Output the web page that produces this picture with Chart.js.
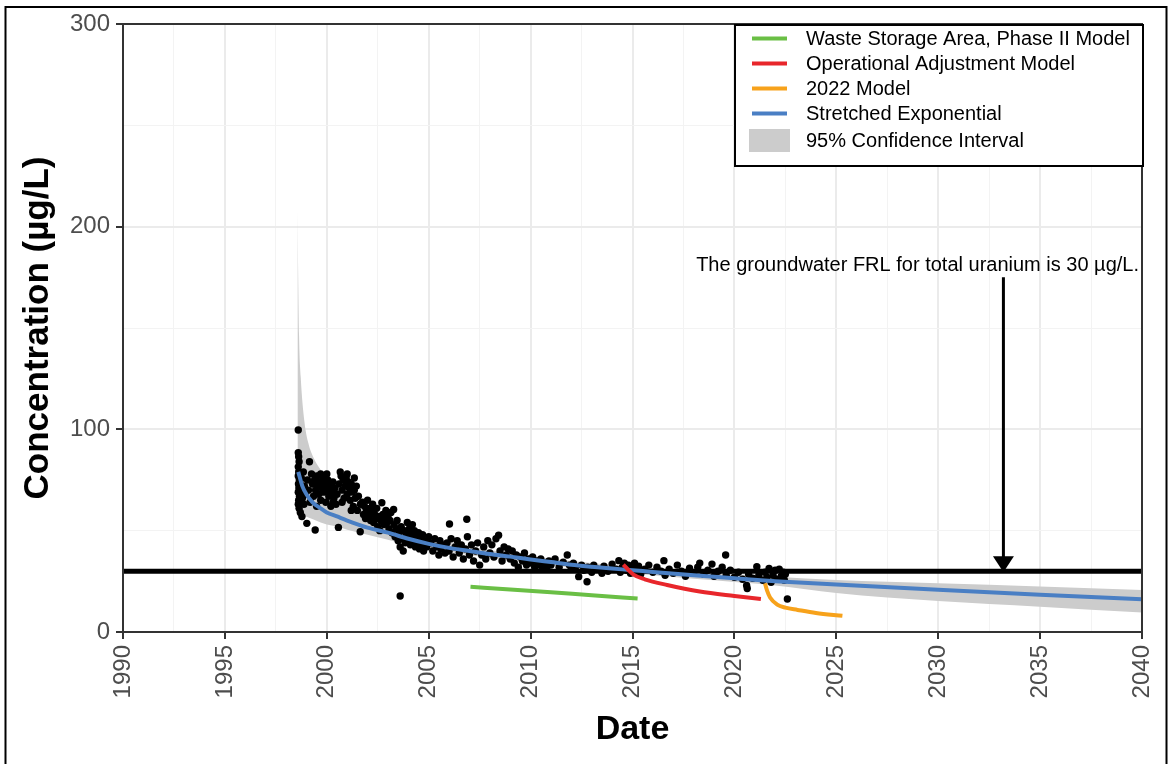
<!DOCTYPE html>
<html>
<head>
<meta charset="utf-8">
<title>Total uranium concentration trend</title>
<script src="https://cdn.jsdelivr.net/npm/chart.js@4.4.1/dist/chart.umd.min.js"></script>
<style>
  html, body { margin: 0; padding: 0; background: #fff; }
  canvas { display: block; }
</style>
</head>
<body>
<canvas id="trendChart" width="1169" height="764"></canvas>
<script>
// Measured samples: [decimal year, concentration (µg/L)]
const samples = [
  [1998.60, 99.7], [1998.60, 88.5], [1998.62, 86.5], [1998.64, 84], [1998.60, 81.5], [1998.62, 79],
  [1998.60, 77], [1998.65, 75], [1998.61, 73], [1998.63, 71], [1998.60, 69], [1998.66, 67],
  [1998.62, 65], [1998.60, 63], [1998.64, 61], [1998.70, 59], [1998.78, 57], [1998.68, 74],
  [1998.72, 70], [1998.75, 76], [1998.80, 66], [1998.85, 79], [1998.88, 63],
  [1998.90, 72], [1998.95, 68], [1999.02, 53.6], [1999.05, 75], [1999.10, 70], [1999.15, 84],
  [1999.18, 64], [1999.25, 78], [1999.30, 73], [1999.35, 67], [1999.40, 75], [1999.43, 50.3],
  [1999.45, 70], [1999.50, 62], [1999.50, 77],
  [1999.55, 72], [1999.60, 68], [1999.65, 74], [1999.70, 65], [1999.75, 71], [1999.80, 76],
  [1999.85, 69], [1999.90, 73], [1999.95, 64], [2000.00, 70], [2000.05, 75], [2000.10, 67],
  [2000.15, 72], [2000.20, 62], [2000.25, 69], [2000.30, 74], [2000.35, 66], [2000.40, 71],
  [2000.45, 63], [2000.50, 68], [1999.70, 78], [2000.00, 78], [2000.30, 64],
  [2000.57, 51.6], [2000.60, 73], [2000.66, 79], [2000.70, 77], [2000.75, 70], [2000.80, 75],
  [2000.85, 66], [2000.90, 72], [2000.95, 76], [2001.00, 68], [2001.05, 74], [2001.10, 71],
  [2001.15, 65], [2001.20, 73], [2001.25, 69], [2001.30, 62], [2001.35, 70], [2001.40, 66],
  [2001.45, 72], [2001.50, 60], [2001.55, 67], [2001.64, 49.5], [2001.65, 63],
  [2000.75, 64], [2001.00, 78], [2001.20, 60], [2001.35, 76],
  [2001.75, 64], [2001.80, 58], [2001.85, 62], [2001.90, 56], [2001.95, 60], [2002.00, 65],
  [2002.05, 57], [2002.10, 61], [2002.15, 55], [2002.20, 59], [2002.25, 63], [2002.30, 54],
  [2002.35, 58], [2002.40, 56], [2002.45, 61], [2002.50, 52], [2002.55, 57], [2002.60, 50],
  [2002.65, 55], [2002.70, 63.8], [2002.75, 58], [2002.80, 53], [2002.85, 56], [2002.90, 60],
  [2002.95, 54], [2002.00, 59], [2002.30, 61], [2002.60, 56],
  [2003.00, 57], [2003.05, 51], [2003.10, 55], [2003.15, 59], [2003.20, 49], [2003.28, 60.5],
  [2003.30, 53], [2003.35, 47], [2003.40, 51], [2003.45, 55], [2003.50, 45], [2003.55, 49],
  [2003.60, 17.8], [2003.60, 42], [2003.65, 52], [2003.70, 46], [2003.75, 40], [2003.80, 50],
  [2003.85, 44], [2003.90, 48], [2003.95, 54],
  [2004.00, 46], [2004.05, 51], [2004.10, 43], [2004.15, 48], [2004.20, 53], [2004.25, 45],
  [2004.30, 50], [2004.35, 42], [2004.40, 47], [2004.45, 44], [2004.50, 49], [2004.55, 41],
  [2004.60, 46], [2004.65, 43], [2004.70, 48], [2004.75, 40], [2004.80, 45], [2004.90, 42],
  [2005.00, 47],
  [2005.10, 44], [2005.20, 40], [2005.30, 46], [2005.40, 42], [2005.50, 38], [2005.55, 45],
  [2005.60, 41], [2005.70, 43], [2005.80, 39], [2005.90, 44], [2006.02, 53.3], [2006.00, 40],
  [2006.10, 46], [2006.20, 37], [2006.30, 42],
  [2006.40, 45], [2006.50, 39], [2006.60, 43], [2006.70, 36], [2006.87, 55.6], [2006.80, 41],
  [2006.90, 47], [2007.00, 38], [2007.10, 43], [2007.20, 35], [2007.30, 40], [2007.40, 44],
  [2007.50, 33], [2007.60, 38],
  [2007.70, 42], [2007.80, 36], [2007.90, 45], [2008.00, 39], [2008.10, 43], [2008.20, 37],
  [2008.30, 46], [2008.43, 47.8], [2008.50, 40], [2008.60, 35], [2008.70, 42], [2008.80, 38],
  [2008.90, 41], [2009.00, 36],
  [2009.10, 40], [2009.20, 34], [2009.30, 38], [2009.40, 32], [2009.50, 37], [2009.60, 35],
  [2009.70, 39], [2009.80, 33], [2009.90, 36], [2010.00, 34], [2010.10, 37], [2010.20, 32],
  [2010.30, 35], [2010.40, 33],
  [2010.50, 36], [2010.60, 31.5], [2010.70, 34], [2010.80, 32], [2010.90, 35], [2011.00, 33],
  [2011.20, 36], [2011.40, 32], [2011.60, 34.5], [2011.80, 38], [2011.90, 33], [2012.00, 31],
  [2012.10, 34], [2012.20, 32], [2012.36, 27.3], [2012.50, 33],
  [2012.60, 30.5], [2012.77, 24.8], [2012.80, 32], [2013.00, 29.5], [2013.10, 33], [2013.30, 31],
  [2013.50, 29], [2013.60, 32.5], [2013.80, 30], [2014.00, 33.5], [2014.20, 31], [2014.33, 35.2],
  [2014.40, 29.5], [2014.50, 32], [2014.60, 34],
  [2014.70, 30.5], [2014.80, 33], [2014.90, 29], [2015.00, 31.5], [2015.10, 34], [2015.20, 30],
  [2015.30, 32.5], [2015.40, 28.5], [2015.60, 31], [2015.80, 33], [2016.00, 29.5], [2016.20, 32],
  [2016.40, 30], [2016.54, 35.2], [2016.60, 28],
  [2016.80, 31], [2017.00, 29], [2017.20, 33], [2017.40, 30], [2017.60, 27.5], [2017.80, 31.5],
  [2018.00, 29], [2018.20, 32], [2018.30, 34], [2018.50, 28.5], [2018.70, 30.5], [2018.90, 33.5],
  [2019.00, 27.5], [2019.20, 30],
  [2019.40, 32], [2019.57, 38], [2019.60, 28], [2019.80, 30.5], [2020.00, 27], [2020.20, 29.5],
  [2020.40, 26], [2020.63, 21.5], [2020.60, 23], [2020.70, 28.5], [2020.90, 26.5], [2021.10, 32.2],
  [2021.20, 28],
  [2021.40, 25.5], [2021.50, 29.5], [2021.60, 27], [2021.70, 31.3], [2021.80, 24.5], [2021.90, 28],
  [2022.00, 30.5], [2022.10, 26], [2022.20, 31], [2022.30, 27.5], [2022.40, 29.5], [2022.45, 25.5],
  [2022.50, 28.5], [2022.60, 16.3]
];

// Stretched exponential fit
const fitYears = [1998.6, 1998.8, 1999.0, 1999.3, 1999.7, 2000.0, 2000.5, 2001, 2002, 2003, 2004,
  2005, 2006, 2007, 2008, 2009, 2010, 2011, 2012, 2013, 2014, 2015, 2016, 2018, 2020, 2022, 2025,
  2030, 2035, 2040];
const fitValues = [79, 72, 68, 64, 61, 59, 57, 55, 51.5, 49, 46, 43.5, 41.5, 40, 38.5, 37.2, 35.8,
  34.5, 33.2, 32.2, 31.3, 30.5, 29.6, 28.0, 26.5, 25.1, 23.4, 20.8, 18.4, 16.2];

// 95% confidence interval of the fit
const ciYears = [1998.56, 1998.64, 1998.72, 1998.9, 1999.1, 1999.35, 1999.7, 2000.0, 2000.5, 2001,
  2002, 2003, 2004, 2005, 2006, 2007, 2008, 2010, 2012, 2014, 2016, 2018, 2020, 2022, 2025, 2030,
  2035, 2040];
const ciUpper = [208, 146, 126, 104, 93, 86, 80, 76, 71, 66.5, 60, 55, 51, 47.5, 44.5, 42.3, 40.5,
  37.5, 35, 33, 31.2, 29.8, 28.5, 27.3, 25.6, 24, 22.4, 20.7];
const ciLower = [57, 57, 57, 57, 56.5, 55.5, 54, 53, 52, 50.5, 48, 45.5, 43, 41.3, 39.5, 38, 36.5,
  34.2, 31.8, 29.8, 28, 26.3, 24.7, 23, 19.3, 15.3, 12.5, 9.6];

// Earlier model projections
const wsaYears = [2007.05, 2009, 2011, 2013, 2015.25];
const wsaValues = [22.3, 21.0, 19.6, 18.1, 16.5];
const oaYears = [2014.55, 2014.8, 2015.05, 2015.6, 2016.7, 2018.3, 2020, 2021.3];
const oaValues = [33.2, 30.6, 28.3, 26.0, 23.2, 20.0, 17.8, 16.3];
const m2022Years = [2021.5, 2021.6, 2021.75, 2022.1, 2022.5, 2023.1, 2024, 2025.3];
const m2022Values = [24, 20.5, 17, 13.5, 12, 10.9, 9.4, 8.0];

const frlValue = 30;
const noteText = "The groundwater FRL for total uranium is 30 µg/L.";

const seriesNames = ["Waste Storage Area, Phase II Model", "Operational Adjustment Model",
  "2022 Model", "Stretched Exponential", "95% Confidence Interval"];
const seriesColors = ["#6abf45", "#e8262b", "#f7a21b", "#4a7fc4", "#cccccc"];

const FONT = '"Liberation Sans", Arial, Helvetica, sans-serif';
Chart.defaults.font.family = FONT;

const toPoints = (xs, ys) => xs.map((x, i) => ({ x, y: ys[i] }));
const isMajor = (v, step) => Math.abs(v % step) < 1e-6;

// white page and outer frame
const pageFrame = {
  id: "pageFrame",
  beforeDraw(chart) {
    const c = chart.ctx;
    c.save();
    c.fillStyle = "#fff";
    c.fillRect(0, 0, chart.width, chart.height);
    c.restore();
  },
  afterDraw(chart) {
    const c = chart.ctx;
    c.save();
    c.strokeStyle = "#000";
    c.lineWidth = 2;
    c.strokeRect(5.5, 7, 1161, 800);
    c.restore();
  }
};

// panel border, arrow and FRL note
const panelExtras = {
  id: "panelExtras",
  afterDatasetsDraw(chart) {
    const { ctx: c, chartArea: a, scales: { x, y } } = chart;
    c.save();
    c.strokeStyle = "#333";
    c.lineWidth = 2;
    c.strokeRect(a.left, a.top, a.right - a.left, a.bottom - a.top);

    const ax = x.getPixelForValue(2033.2);
    const yTop = y.getPixelForValue(175);
    const yTip = y.getPixelForValue(frlValue) + 1;
    c.strokeStyle = "#000";
    c.lineWidth = 3;
    c.beginPath();
    c.moveTo(ax, yTop);
    c.lineTo(ax, yTip - 12);
    c.stroke();
    c.fillStyle = "#000";
    c.beginPath();
    c.moveTo(ax - 10.5, yTip - 16);
    c.lineTo(ax + 10.5, yTip - 16);
    c.lineTo(ax, yTip);
    c.closePath();
    c.fill();

    c.font = "20px " + FONT;
    c.textAlign = "right";
    c.textBaseline = "middle";
    c.fillText(noteText, a.right - 3, y.getPixelForValue(181));
    c.restore();
  }
};

// boxed legend inside the panel
const boxLegend = {
  id: "boxLegend",
  afterDraw(chart) {
    const c = chart.ctx;
    const left = 735, top = 25, w = 408, h = 141;
    c.save();
    c.fillStyle = "#fff";
    c.fillRect(left, top, w, h);
    c.strokeStyle = "#000";
    c.lineWidth = 2;
    c.strokeRect(left, top, w, h);
    c.font = "20px " + FONT;
    c.textBaseline = "middle";
    seriesNames.forEach((name, i) => {
      const last = i === seriesNames.length - 1;
      const cy = last ? top + 115.5 : top + 13.5 + i * 25;
      if (last) {
        c.fillStyle = seriesColors[i];
        c.fillRect(left + 14, cy - 11.5, 41, 23);
      } else {
        c.strokeStyle = seriesColors[i];
        c.lineWidth = 4;
        c.beginPath();
        c.moveTo(left + 17, cy);
        c.lineTo(left + 52, cy);
        c.stroke();
      }
      c.fillStyle = "#000";
      c.fillText(name, left + 71, cy + 0.5);
    });
    c.restore();
  }
};

const lineSet = (label, xs, ys, color, order) => ({
  label,
  data: toPoints(xs, ys),
  borderColor: color,
  borderWidth: 4,
  pointRadius: 0,
  fill: false,
  cubicInterpolationMode: "monotone",
  order
});

const ctx = document.getElementById("trendChart").getContext("2d");
new Chart(ctx, {
  type: "line",
  data: {
    datasets: [
      {
        label: "ci-lower",
        data: toPoints(ciYears, ciLower),
        borderColor: "rgba(0,0,0,0)",
        pointRadius: 0,
        fill: false,
        cubicInterpolationMode: "monotone",
        order: 10
      },
      {
        label: seriesNames[4],
        data: toPoints(ciYears, ciUpper),
        borderColor: "rgba(0,0,0,0)",
        backgroundColor: seriesColors[4],
        pointRadius: 0,
        fill: "-1",
        cubicInterpolationMode: "monotone",
        order: 9
      },
      {
        label: "Samples",
        data: samples.map(([x, y]) => ({ x, y })),
        showLine: false,
        pointRadius: 3.7,
        pointBorderWidth: 0,
        pointBackgroundColor: "#000",
        order: 8
      },
      {
        label: "FRL",
        data: [{ x: 1990, y: frlValue }, { x: 2040, y: frlValue }],
        borderColor: "#000",
        borderWidth: 5,
        pointRadius: 0,
        order: 7
      },
      lineSet(seriesNames[3], fitYears, fitValues, seriesColors[3], 6),
      lineSet(seriesNames[0], wsaYears, wsaValues, seriesColors[0], 5),
      lineSet(seriesNames[1], oaYears, oaValues, seriesColors[1], 4),
      lineSet(seriesNames[2], m2022Years, m2022Values, seriesColors[2], 3)
    ]
  },
  options: {
    responsive: false,
    animation: false,
    layout: { padding: { top: 24, right: 27, bottom: 0, left: 0 } },
    plugins: {
      legend: { display: false },
      tooltip: { enabled: false }
    },
    scales: {
      x: {
        type: "linear",
        min: 1990,
        max: 2040,
        afterFit: (s) => { s.height = 132; s.paddingLeft = 0; s.paddingRight = 0; },
        ticks: {
          stepSize: 2.5,
          autoSkip: false,
          minRotation: 90,
          maxRotation: 90,
          padding: 6,
          color: "#4d4d4d",
          font: { size: 24 },
          callback: (v) => (isMajor(v, 5) ? String(v) : "")
        },
        grid: {
          color: (c) => (c.tick && isMajor(c.tick.value, 5) ? "#ebebeb" : "#f3f3f3"),
          lineWidth: (c) => (c.tick && isMajor(c.tick.value, 5) ? 2 : 1),
          tickColor: (c) => (c.tick && isMajor(c.tick.value, 5) ? "#333" : "rgba(0,0,0,0)"),
          tickWidth: 2,
          tickLength: 7
        },
        border: { display: false },
        title: {
          display: true,
          text: "Date",
          color: "#000",
          font: { size: 34, weight: "bold" },
          padding: { top: 0, bottom: 14 }
        }
      },
      y: {
        min: 0,
        max: 300,
        afterFit: (s) => { s.width = 123; s.paddingTop = 0; s.paddingBottom = 0; },
        ticks: {
          stepSize: 50,
          padding: 6,
          color: "#4d4d4d",
          font: { size: 24 },
          callback: (v) => (isMajor(v, 100) ? String(v) : "")
        },
        grid: {
          color: (c) => (c.tick && isMajor(c.tick.value, 100) ? "#ebebeb" : "#f3f3f3"),
          lineWidth: (c) => (c.tick && isMajor(c.tick.value, 100) ? 2 : 1),
          tickColor: (c) => (c.tick && isMajor(c.tick.value, 100) ? "#333" : "rgba(0,0,0,0)"),
          tickWidth: 2,
          tickLength: 7
        },
        border: { display: false },
        title: {
          display: true,
          text: "Concentration (µg/L)",
          color: "#000",
          font: { size: 35, weight: "bold" },
          padding: { top: 17, bottom: 0 }
        }
      }
    }
  },
  plugins: [pageFrame, panelExtras, boxLegend]
});
</script>
</body>
</html>
